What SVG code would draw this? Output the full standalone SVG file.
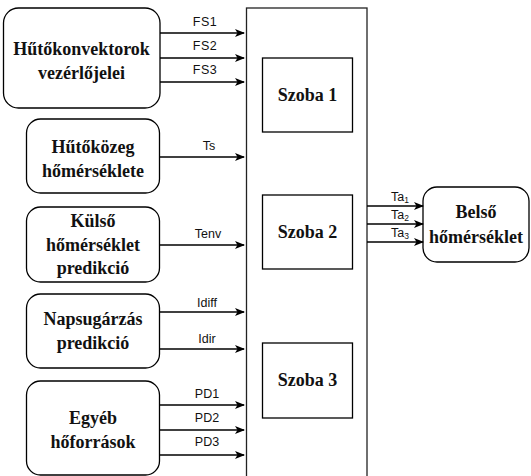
<svg xmlns="http://www.w3.org/2000/svg" width="531" height="476" viewBox="0 0 531 476">
  <defs>
    <marker id="arrow" markerWidth="10" markerHeight="8" refX="9" refY="4" orient="auto" markerUnits="userSpaceOnUse">
      <path d="M0,0 L10,4 L0,8 L2.5,4 Z" fill="#000"/>
    </marker>
    <style>
      .box { fill: #fff; stroke: #000; stroke-width: 1.3; }
      .frame { fill: #fff; stroke: #222; stroke-width: 1.3; }
      .node-text { font-family: 'Liberation Serif', 'DejaVu Serif', serif; font-weight: bold; font-size: 18px; fill: #111; text-anchor: middle; }
      .edge { fill: none; stroke: #000; stroke-width: 1.3; marker-end: url(#arrow); }
      .edge-label { font-family: 'Liberation Sans', Arial, sans-serif; font-size: 12.5px; fill: #111; text-anchor: middle; }
      .sub { font-size: 8.5px; }
    </style>
  </defs>
  <rect width="531" height="476" fill="#fff"/>

  <!-- building block with rooms -->
  <g id="epulet">
    <rect class="frame" x="246.5" y="8" width="120.5" height="480"/>
  </g>
  <g id="szoba1">
    <rect class="box" x="262.5" y="58" width="90" height="74"/>
    <text class="node-text" x="307.5" y="101">Szoba 1</text>
  </g>
  <g id="szoba2">
    <rect class="box" x="262.5" y="195" width="90" height="74"/>
    <text class="node-text" x="307.5" y="238">Szoba 2</text>
  </g>
  <g id="szoba3">
    <rect class="box" x="262.5" y="343" width="90" height="75"/>
    <text class="node-text" x="307.5" y="386">Szoba 3</text>
  </g>

  <!-- input sources -->
  <g id="hutokonvektorok">
    <rect class="box" x="3.5" y="8" width="156.5" height="100" rx="15"/>
    <text class="node-text" x="81.5" y="55">Hűtőkonvektorok</text>
    <text class="node-text" x="81.5" y="79">vezérlőjelei</text>
  </g>
  <g id="hutokozeg">
    <rect class="box" x="26.5" y="119" width="133" height="74" rx="14"/>
    <text class="node-text" x="93" y="153">Hűtőközeg</text>
    <text class="node-text" x="93" y="177">hőmérséklete</text>
  </g>
  <g id="kulso">
    <rect class="box" x="26.5" y="207" width="133" height="75" rx="14"/>
    <text class="node-text" x="93" y="227">Külső</text>
    <text class="node-text" x="93" y="250.5">hőmérséklet</text>
    <text class="node-text" x="93" y="274">predikció</text>
  </g>
  <g id="napsugarzas">
    <rect class="box" x="26.5" y="294" width="133" height="74" rx="14"/>
    <text class="node-text" x="93" y="325">Napsugárzás</text>
    <text class="node-text" x="93" y="349">predikció</text>
  </g>
  <g id="egyeb">
    <rect class="box" x="26.5" y="381" width="133" height="94" rx="14"/>
    <text class="node-text" x="93" y="424">Egyéb</text>
    <text class="node-text" x="93" y="448">hőforrások</text>
  </g>

  <!-- output -->
  <g id="belso">
    <rect class="box" x="423" y="187" width="106" height="75" rx="14"/>
    <text class="node-text" x="476" y="218">Belső</text>
    <text class="node-text" x="476" y="243">hőmérséklet</text>
  </g>

  <!-- signal connectors -->
  <g id="connectors">
    <line class="edge" x1="160" y1="33" x2="244" y2="33"/>
    <line class="edge" x1="160" y1="58" x2="244" y2="58"/>
    <line class="edge" x1="160" y1="82" x2="244" y2="82"/>
    <line class="edge" x1="160" y1="157" x2="244" y2="157"/>
    <line class="edge" x1="160" y1="245" x2="244" y2="245"/>
    <line class="edge" x1="160" y1="312" x2="244" y2="312"/>
    <line class="edge" x1="160" y1="349" x2="244" y2="349"/>
    <line class="edge" x1="160" y1="405" x2="244" y2="405"/>
    <line class="edge" x1="160" y1="430" x2="244" y2="430"/>
    <line class="edge" x1="160" y1="455" x2="244" y2="455"/>
    <line class="edge" x1="367" y1="206" x2="423" y2="206"/>
    <line class="edge" x1="367" y1="224" x2="423" y2="224"/>
    <line class="edge" x1="367" y1="242" x2="423" y2="242"/>

    <text class="edge-label" x="205" y="26" letter-spacing="0.5">FS1</text>
    <text class="edge-label" x="205" y="50" letter-spacing="0.5">FS2</text>
    <text class="edge-label" x="205" y="74" letter-spacing="0.5">FS3</text>
    <text class="edge-label" x="209" y="150">Ts</text>
    <text class="edge-label" x="208" y="238">Tenv</text>
    <text class="edge-label" x="207" y="307">Idiff</text>
    <text class="edge-label" x="207" y="343">Idir</text>
    <text class="edge-label" x="207" y="398">PD1</text>
    <text class="edge-label" x="207" y="422">PD2</text>
    <text class="edge-label" x="207" y="446">PD3</text>
    <text class="edge-label" x="400" y="201">Ta<tspan class="sub" dy="2">1</tspan></text>
    <text class="edge-label" x="400" y="219">Ta<tspan class="sub" dy="2">2</tspan></text>
    <text class="edge-label" x="400" y="237">Ta<tspan class="sub" dy="2">3</tspan></text>
  </g>
</svg>
